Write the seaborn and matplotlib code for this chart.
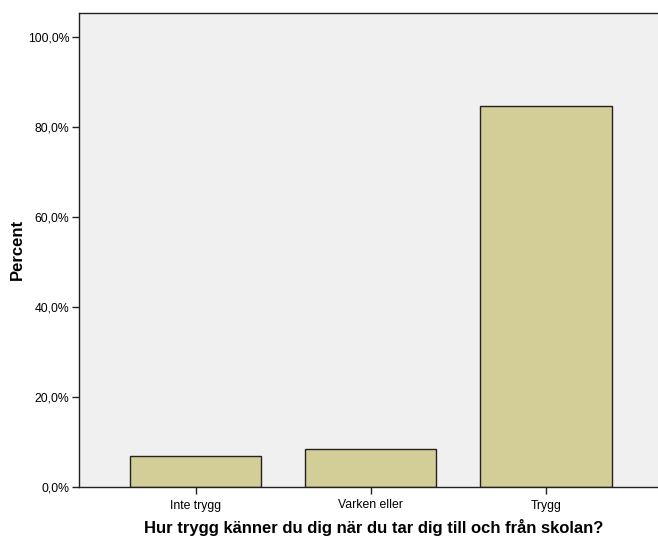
import matplotlib
matplotlib.use("Agg")
import matplotlib.pyplot as plt
import seaborn as sns
import pandas as pd
from matplotlib.ticker import FuncFormatter

categories = ["Inte trygg", "Varken eller", "Trygg"]
percent = [6.8, 8.5, 84.7]

df = pd.DataFrame({"cat": categories, "pct": percent})

sns.set_theme(style="white")
plt.rcParams["font.family"] = ["Liberation Sans", "DejaVu Sans"]
plt.rcParams["text.color"] = "black"
plt.rcParams["axes.labelcolor"] = "black"
plt.rcParams["xtick.color"] = "black"
plt.rcParams["ytick.color"] = "black"

W, H = 658, 537
fig = plt.figure(figsize=(W/100, H/100), dpi=100)
ax = fig.add_axes([79/W, 1-487/H, 1-79/W, (487-13)/H])
ax.set_facecolor("#f0f0f0")

sns.barplot(data=df, x="cat", y="pct", color="#d3ce97", saturation=1,
            edgecolor="#222222", linewidth=1, width=0.75, ax=ax)

ax.set_xlim(-0.665, 2.64)
ax.set_ylim(0, 105.3)
ax.set_yticks([0, 20, 40, 60, 80, 100])
ax.yaxis.set_major_formatter(FuncFormatter(lambda v, p: f"{v:.1f}%".replace(".", ",")))
ax.tick_params(axis="both", which="major", labelsize=8.8, length=5, width=1,
               color="#222222", labelcolor="black", direction="out", pad=2)
ax.tick_params(axis="x", pad=4)
ax.tick_params(left=True, bottom=True)

for s in ["left", "bottom", "top"]:
    ax.spines[s].set_visible(True)
    ax.spines[s].set_color("#222222")
    ax.spines[s].set_linewidth(1)
ax.spines["right"].set_visible(False)

ax.set_xlabel("Hur trygg känner du dig när du tar dig till och från skolan?",
              fontsize=12, fontweight="bold", color="black")
ax.set_ylabel("Percent", fontsize=12, fontweight="bold", color="black")
ax.xaxis.label.set_verticalalignment("center")
ax.yaxis.label.set_verticalalignment("center")
ax.xaxis.set_label_coords((374 - 79) / (W - 79), (487 - 528) / (487 - 13))
ax.yaxis.set_label_coords((17 - 79) / (W - 79), (487 - 249) / (487 - 13))

fig.savefig("out.png", dpi=100)
